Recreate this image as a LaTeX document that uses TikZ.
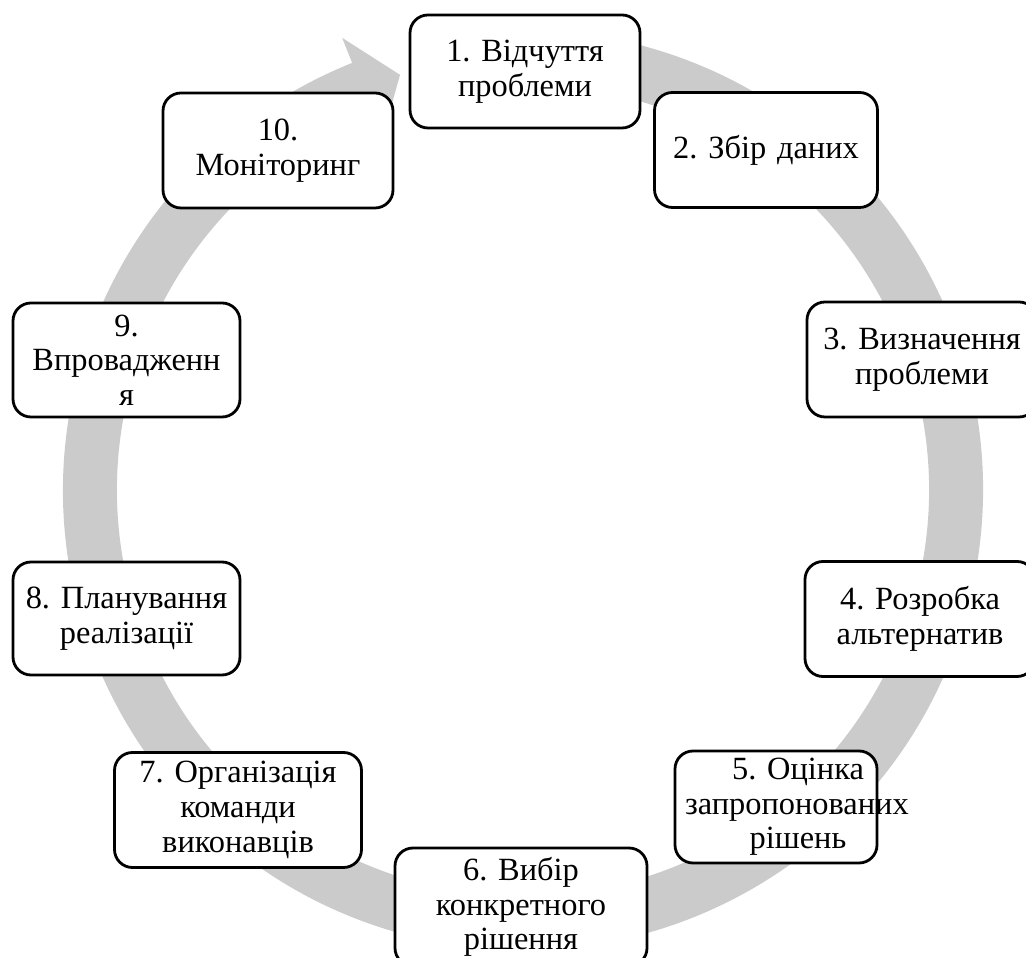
\documentclass[tikz,border=0pt]{standalone}
\usepackage{fontspec}
\setmainfont{Liberation Serif}
\usepackage{tikz,xcolor}
\usetikzlibrary{calc,positioning,shapes.misc}
\definecolor{cyclegray}{RGB}{203,203,203}
\tikzset{
    stepbox/.style={ % rounded box of one stage
        draw,
        rectangle,
        rounded corners=9pt,
        line width=1.4pt,
        fill=white,
        align=center,
        inner sep=1pt,
        font=\fontsize{16.2}{17.3}\selectfont\frenchspacing
    }
}

\begin{document}
\begin{tikzpicture}[x=0.5pt,y=0.5pt]
        \def\rout{460}
        \def\rin{406}
        \def\rmid{433}
        \clip (0,0) rectangle (1026,957);
        \useasboundingbox (0,0) rectangle (1026,957);
        \coordinate (O) at (523,467);
        
        % circular arrow
        \fill[cyclegray] ($(O)+(80:\rout)$) arc[start angle=80, end angle=-248.2, radius=\rout]
            -- ($(O)+(-248.2:487)$) -- ($(O)+(-253.5:\rmid)$) -- ($(O)+(-248.2:379)$)
            -- ($(O)+(-248.2:\rin)$) arc[start angle=-248.2, end angle=80, radius=\rin] -- cycle;
        
        \node[stepbox,text width=113pt,minimum height=56.5pt] (s1) at (525,885.5) {1. Відчуття\\проблеми};
        \node[stepbox,text width=109.5pt,minimum height=57.5pt] (s2) at (766,807) {2. Збір даних};
        \node[stepbox,text width=113pt,minimum height=57.5pt] (s3) at (922,597.5) {3. Визначення\\проблеми};
        \node[stepbox,text width=113pt,minimum height=57.5pt] (s4) at (920,338) {4. Розробка\\альтернатив};
        \node[stepbox,text width=99pt,minimum height=56pt] (s5) at (776,150) {\hspace*{22pt}5. Оцінка\\\hspace*{4pt}запропонованих\\\hspace*{22pt}рішень};
        \node[stepbox,text width=124pt,minimum height=59pt] (s6) at (521,50) {6. Вибір\\конкретного\\рішення};
        \node[stepbox,text width=121.5pt,minimum height=57.5pt] (s7) at (238,147) {7. Організація\\команди\\виконавців};
        \node[stepbox,text width=111.5pt,minimum height=56.5pt] (s8) at (126.5,338.5) {8. Планування\\реалізації};
        \node[stepbox,text width=111.5pt,minimum height=57pt] (s9) at (126.5,597) {9.\\Впровадженн\\я};
        \node[stepbox,text width=113pt,minimum height=57.5pt] (s10) at (278,806.5) {10.\\Моніторинг};
        
    \end{tikzpicture}
\end{document}
